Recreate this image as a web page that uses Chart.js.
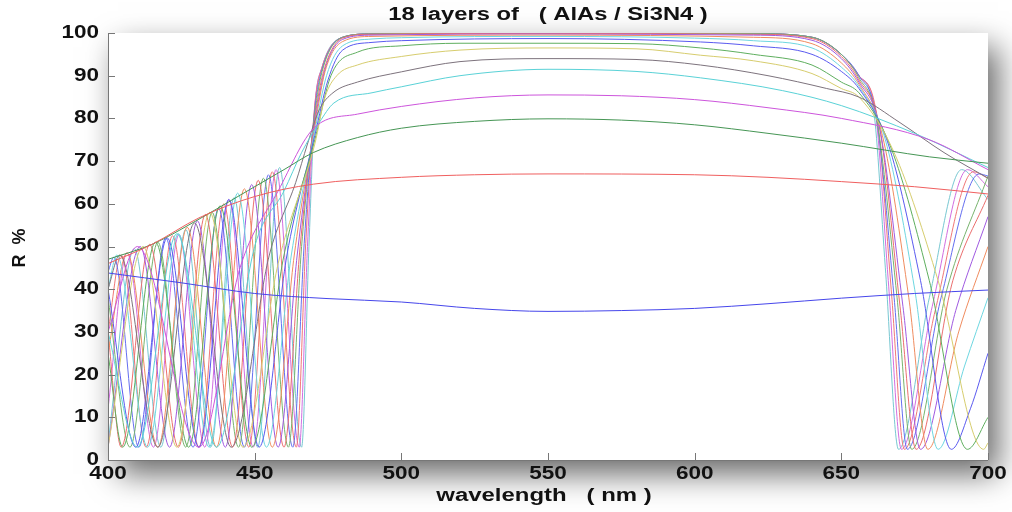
<!DOCTYPE html>
<html>
<head>
<meta charset="utf-8">
<script src="https://cdn.jsdelivr.net/npm/chart.js@4.4.1/dist/chart.umd.min.js"></script>
<style>
  html, body { margin: 0; padding: 0; background: #fff; }
  #wrap { width: 1012px; height: 512px; position: relative; }
</style>
</head>
<body>
<div id="wrap"><canvas id="myChart" width="1012" height="512"></canvas></div>
<script>
// reflectance curves, [wavelength nm, R %], one per number of layer pairs
const n01 = [[400,43.8],[425,41.5],[450,39],[475,37.8],[500,37],[525,35.5],[550,34.8],[575,35],[600,35.5],[625,36.6],[650,37.9],[675,39],[700,39.8]];
const n02 = [[400,46],[415,50.5],[431,56.7],[450,61.7],[470,64.6],[500,66.2],[525,66.8],[550,67],[600,66.8],[625,66.2],[650,65.2],[675,64],[700,62.3]];
const n03 = [[400,47],[415,50.5],[430,56],[445,62],[460,68],[470,72],[485,75.5],[500,77.7],[525,79.3],[550,79.9],[575,79.6],[600,78.5],[625,76.5],[650,74.2],[680,71],[700,69.5]];
const n04 = [[400,30],[410,50],[431,3],[445,45],[458,63],[470.6,78],[485,81],[500,82.8],[525,84.8],[550,85.5],[575,85.3],[600,84.4],[625,82.5],[650,80],[680,75],[700,68]];
const n05 = [[400,30],[410,3],[423.5,53],[437,3],[450,50],[460,63],[466,72],[472,79],[477,83.6],[490,86],[500,87.4],[520,90],[550,91.5],[580,91],[602,89.5],[630,86.5],[650,83],[675,76.5],[700,68.5]];
const n06 = [[400,40],[404,48],[417,3],[429.5,55.5],[442,3],[455,48],[464,65],[468,74],[472,82],[476.7,86],[485,88.5],[500,90.9],[520,93.3],[550,94],[580,93.8],[602,92.5],[625,90],[645,87],[656,85],[670,79],[685,72],[700,66]];
const n07 = [[400,3],[412,50],[423.5,3],[434.7,58],[446,3],[458,46],[470.5,74],[474,85],[478,90],[485,92.5],[500,94.5],[520,96],[550,96.5],[580,96.3],[602,94.8],[620,93.5],[640,90.5],[650,87],[656,85],[668,72],[683,42],[698.5,2.5],[700,4]];
const n08 = [[400,25],[405,3],[416.2,51],[427.5,3],[438.2,59.5],[449,3],[460,48],[470.5,75],[476,90],[485,95.5],[500,97],[520,97.6],[550,97.6],[580,97.5],[602,96.5],[620,95],[640,92.5],[650,88.5],[656,86],[667,73],[680,42],[693,2.5],[700,10]];
const n09 = [[400,40],[409.5,3],[420.2,52],[431,3],[441.2,61],[451.5,3],[461,48],[470.5,76],[475,89],[480,96],[490,97.8],[500,98.2],[550,98.7],[602,97.9],[620,97],[640,95],[650,91],[656,87],[666,74],[677,42],[687.5,2.5],[694,12],[700,25]];
const n10 = [[400,40],[403,48],[413.5,3],[424,53],[434.5,3],[444.2,62.5],[454,3],[462.5,48],[470.5,77],[474.5,90],[480,97],[490,98.6],[500,98.9],[550,99.2],[600,98.8],[620,98.2],[640,96.5],[650,92],[656,87.5],[665,75],[675,40],[683,2.5],[692,22],[700,38]];
const n11 = [[400,25],[406.5,48.5],[417,3],[427,54.5],[437,3],[446.5,63.5],[456,3],[463.5,48],[470.5,78],[474,91],[480,98],[490,99.2],[550,99.5],[620,99],[640,97.5],[650,93],[656,88],[664,76],[673,38],[679.5,2.5],[690,30],[700,50]];
const n12 = [[400,3],[411,50],[421,3],[430.5,56],[440,3],[449,64.5],[458,3],[464.5,48],[470.5,79],[474,91.5],[480,98.5],[490,99.5],[550,99.75],[620,99.5],[640,98.3],[650,94],[656,88.5],[663,78],[671,36],[677,2.5],[689,35],[700,57]];
const n13 = [[400,30],[404.5,3],[414.2,50.5],[424,3],[433.2,57.5],[442.5,3],[451.2,65.5],[460,3],[465.5,50],[470.5,80],[473.5,91],[480,98.8],[490,99.7],[550,99.9],[620,99.7],[640,98.7],[650,94.5],[656,89],[663,78],[670,36],[675.5,2.5],[688,42],[700,62]];
const n14 = [[400,38],[407.5,3],[417,51],[426.5,3],[435.5,58],[444.5,3],[453,66],[461.5,3],[466,50],[470.5,81],[473,91],[480,99],[490,99.8],[550,100],[620,99.85],[640,99],[650,95],[656,89.5],[662,80],[669,38],[674,2.5],[686,40],[700,66.5]];
const n15 = [[400,44],[402,47.5],[410.5,3],[419.7,52],[429,3],[437.7,59],[446.5,3],[454.7,66.8],[463,3],[467,52],[470.5,82],[473,91.5],[480,99],[490,99.8],[550,100],[620,99.85],[640,99],[650,95],[656,90],[662,80],[668,38],[672.5,2.5],[684,38],[697,67],[700,66.5]];
const n16 = [[400,30],[404.5,48],[413,3],[422,52.5],[431,3],[439.5,60],[448,3],[456,67.5],[464.2,3],[467.5,52],[470.5,83],[473,92],[480,99],[490,99.8],[550,100],[620,99.85],[640,99],[650,95],[656,90],[662,81],[667,40],[671.5,2.5],[682,35],[695,67.5],[700,66]];
const n17 = [[400,12],[406.5,48.5],[415.5,3],[424.2,52.8],[433,3],[441.2,61],[449.5,3],[457.3,68],[465.2,3],[468,50],[470.5,83],[473,92],[480,99],[490,99.8],[550,100],[620,99.85],[640,99],[650,95],[656,90],[661.5,82],[666,42],[670.5,2.5],[681,36],[693,68],[700,64]];
const n18 = [[400,4],[409,49.5],[418,3],[426.5,54],[435,3],[443,61.5],[451,3],[458.5,68.5],[466,3],[468.5,50],[470.5,82],[473,92],[480,99],[490,99.8],[550,100],[620,99.85],[640,99],[650,95],[656,90],[661,82],[665,45],[669.5,2.5],[680,38],[691,68],[700,61]];

const curves = [n01, n02, n03, n04, n05, n06, n07, n08, n09, n10, n11, n12, n13, n14, n15, n16, n17, n18];
const xTicks = [400, 450, 500, 550, 600, 650, 700];
const yTicks = [0, 10, 20, 30, 40, 50, 60, 70, 80, 90, 100];

const colors = [
  'rgb(70,70,235)', 'rgb(240,95,95)', 'rgb(70,150,85)', 'rgb(205,85,220)', 'rgb(90,210,215)', 'rgb(125,115,125)',
  'rgb(215,205,110)', 'rgb(95,175,95)', 'rgb(90,90,240)', 'rgb(110,215,225)', 'rgb(240,140,95)', 'rgb(160,90,225)',
  'rgb(235,110,110)', 'rgb(120,180,110)', 'rgb(100,110,240)', 'rgb(240,120,120)', 'rgb(210,110,225)', 'rgb(120,200,210)'
];

const font = "'Liberation Sans', Arial, sans-serif";

// the original screenshot is a bit wider than tall, so text is stretched sideways
function wideText(ctx, text, x, y, sx, align) {
  ctx.save();
  ctx.translate(x, y);
  ctx.scale(sx, 1);
  ctx.textAlign = align;
  ctx.textBaseline = 'middle';
  ctx.fillText(text, 0, 0);
  ctx.restore();
}

const figure = {
  id: 'figure',
  beforeDraw(chart) {
    const { ctx, chartArea: a } = chart;
    ctx.save();
    ctx.fillStyle = '#fff';
    ctx.fillRect(0, 0, chart.width, chart.height);
    // drop shadow of the plot box
    ctx.shadowColor = 'rgba(0,0,0,0.6)';
    ctx.shadowBlur = 30;
    ctx.shadowOffsetX = 10;
    ctx.shadowOffsetY = 14;
    ctx.fillRect(a.left, a.top, a.right - a.left, a.bottom - a.top);
    ctx.restore();
    ctx.save();
    ctx.fillStyle = '#fff';
    ctx.fillRect(a.left, a.top, a.right - a.left, a.bottom - a.top);
    ctx.restore();
  },
  afterDatasetsDraw(chart) {
    const { ctx, chartArea: a, scales } = chart;
    ctx.save();
    ctx.strokeStyle = '#777';
    ctx.lineWidth = 1;
    ctx.beginPath();
    ctx.moveTo(a.left + 0.5, a.top);
    ctx.lineTo(a.left + 0.5, a.bottom + 0.5);
    ctx.lineTo(a.right, a.bottom + 0.5);
    xTicks.forEach(v => {
      const px = Math.round(scales.x.getPixelForValue(v)) + 0.5;
      ctx.moveTo(px, a.bottom);
      ctx.lineTo(px, a.bottom - 7);
    });
    yTicks.forEach(v => {
      const py = Math.round(scales.y.getPixelForValue(v)) + 0.5;
      ctx.moveTo(a.left, py);
      ctx.lineTo(a.left + 7, py);
    });
    ctx.stroke();

    ctx.fillStyle = '#111';
    ctx.font = 'bold 18px ' + font;
    xTicks.forEach(v => wideText(ctx, String(v), scales.x.getPixelForValue(v), 474, 1.25, 'center'));
    yTicks.forEach(v => wideText(ctx, String(v), a.left - 9, scales.y.getPixelForValue(v), 1.25, 'right'));

    wideText(ctx, '18 layers of   ( AlAs / Si3N4 )', (a.left + a.right) / 2, 15, 1.32, 'center');
    wideText(ctx, 'wavelength   ( nm )', 544, 496, 1.33, 'center');

    ctx.translate(20, 248);
    ctx.rotate(-Math.PI / 2);
    ctx.textAlign = 'center';
    ctx.textBaseline = 'middle';
    ctx.fillText('R  %', 0, 0);
    ctx.restore();
  }
};

new Chart(document.getElementById('myChart'), {
  type: 'line',
  data: {
    datasets: curves.map((c, i) => ({
      label: 'N = ' + (i + 1),
      data: c.map(p => ({ x: p[0], y: p[1] })),
      borderColor: colors[i],
      borderWidth: 1,
      pointRadius: 0,
      fill: false,
      cubicInterpolationMode: 'monotone'
    }))
  },
  options: {
    responsive: false,
    animation: false,
    layout: { padding: { top: 33, right: 24, bottom: 0, left: 0 } },
    plugins: {
      legend: { display: false },
      tooltip: { enabled: false },
      title: { display: false }
    },
    scales: {
      x: {
        type: 'linear',
        min: 400,
        max: 700,
        afterBuildTicks: s => { s.ticks = xTicks.map(v => ({ value: v })); },
        afterFit: s => { s.height = 52; },
        grid: { display: false, drawTicks: false },
        border: { display: false },
        ticks: { display: false }
      },
      y: {
        min: 0,
        max: 100,
        afterBuildTicks: s => { s.ticks = yTicks.map(v => ({ value: v })); },
        afterFit: s => { s.width = 108; },
        grid: { display: false, drawTicks: false },
        border: { display: false },
        ticks: { display: false }
      }
    }
  },
  plugins: [figure]
});
</script>
</body>
</html>
